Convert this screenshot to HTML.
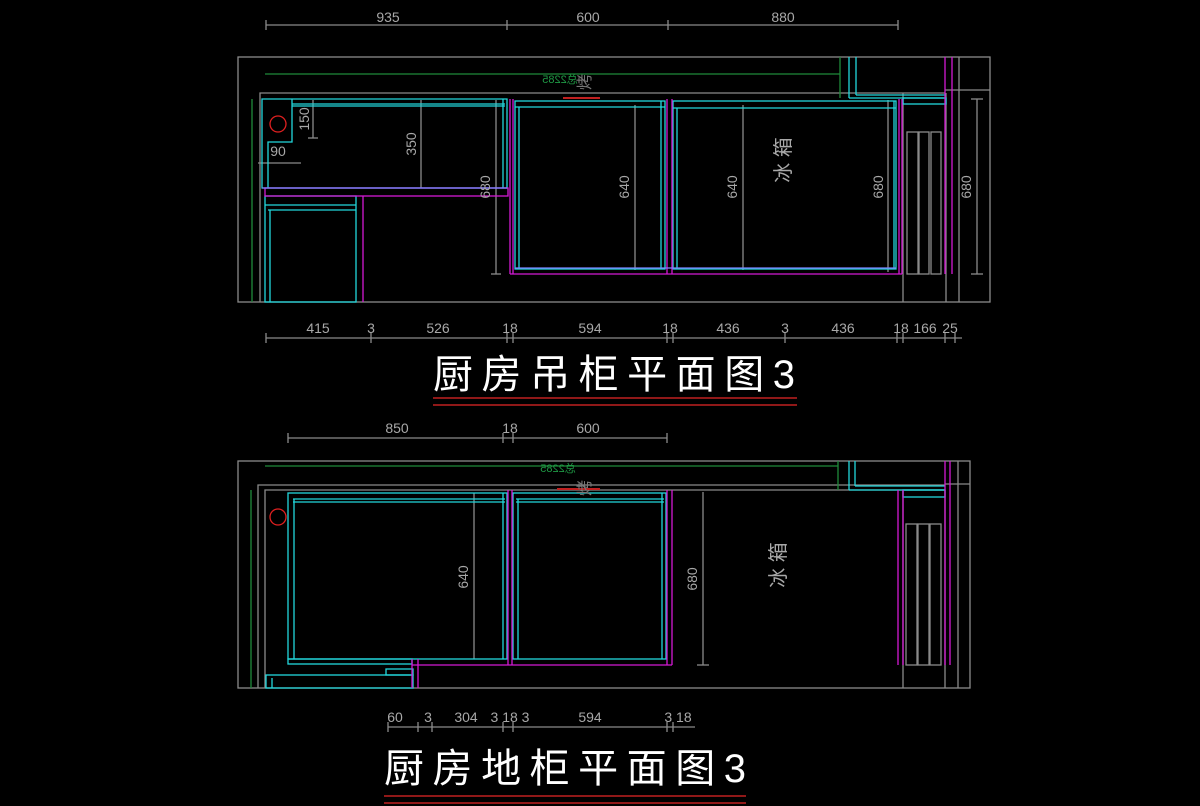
<!DOCTYPE html>
<html><head><meta charset="utf-8"><style>
html,body{margin:0;padding:0;background:#000;}
svg{display:block}
text{font-family:"Liberation Sans","Noto Sans CJK SC",sans-serif;}
</style></head><body>
<svg width="1200" height="806" viewBox="0 0 1200 806" xmlns="http://www.w3.org/2000/svg">
<rect width="1200" height="806" fill="#000"/>
<g fill="none" stroke-width="1.3">
<!-- ===== TOP DRAWING ===== -->
<g stroke="#8a8a8a">
<rect x="238" y="57" width="752" height="245"/>
<polyline points="260,302 260,93 945,93"/>
<line x1="945" y1="90" x2="990" y2="90"/>
<line x1="903" y1="93" x2="903" y2="302"/>
<line x1="946" y1="93" x2="946" y2="302"/>
<line x1="959" y1="57" x2="959" y2="302"/>
<rect x="907" y="132" width="11" height="142"/>
<rect x="919" y="132" width="10" height="142"/>
<rect x="931" y="132" width="10" height="142"/>
<!-- dims -->
<line x1="266" y1="25" x2="898" y2="25"/>
<line x1="266" y1="20" x2="266" y2="30"/><line x1="507" y1="20" x2="507" y2="30"/><line x1="668" y1="20" x2="668" y2="30"/><line x1="898" y1="20" x2="898" y2="30"/>
<line x1="266" y1="338" x2="962" y2="338"/>
<line x1="266" y1="333" x2="266" y2="343"/><line x1="371" y1="333" x2="371" y2="343"/><line x1="507" y1="333" x2="507" y2="343"/><line x1="513" y1="333" x2="513" y2="343"/><line x1="667" y1="333" x2="667" y2="343"/><line x1="673" y1="333" x2="673" y2="343"/><line x1="785" y1="333" x2="785" y2="343"/><line x1="897" y1="333" x2="897" y2="343"/><line x1="903" y1="333" x2="903" y2="343"/><line x1="945" y1="333" x2="945" y2="343"/><line x1="955" y1="333" x2="955" y2="343"/>
<line x1="421" y1="100" x2="421" y2="188"/>
<line x1="313" y1="100" x2="313" y2="138"/><line x1="308" y1="138" x2="318" y2="138"/>
<line x1="496" y1="100" x2="496" y2="274"/><line x1="491" y1="274" x2="501" y2="274"/>
<line x1="635" y1="105" x2="635" y2="270"/>
<line x1="743" y1="105" x2="743" y2="270"/>
<line x1="888" y1="100" x2="888" y2="272"/>
<line x1="977" y1="99" x2="977" y2="274"/><line x1="971" y1="99" x2="983" y2="99"/><line x1="971" y1="274" x2="983" y2="274"/>
<line x1="258" y1="163" x2="301" y2="163"/>
</g>
<g stroke="#1f8a3a">
<line x1="265" y1="74" x2="840" y2="74"/>
<line x1="840" y1="57" x2="840" y2="98"/>
<line x1="252" y1="99" x2="252" y2="302"/>
</g>
<g stroke="#22d8dc">
<polyline points="292,99 507,99 507,188 262,188 262,99 292,99 292,142 268,142 268,188"/>
<line x1="292" y1="104" x2="505" y2="104"/><line x1="292" y1="106" x2="505" y2="106"/>
<line x1="503" y1="99" x2="503" y2="188"/>
<rect x="265" y="196" width="91" height="106"/>
<line x1="265" y1="205" x2="356" y2="205"/><line x1="268" y1="210" x2="356" y2="210"/>
<line x1="270" y1="210" x2="270" y2="302"/>
<rect x="515" y="101" width="150" height="168"/>
<line x1="515" y1="107" x2="665" y2="107"/>
<line x1="519" y1="107" x2="519" y2="269"/><line x1="661" y1="101" x2="661" y2="269"/>
<rect x="673" y="101" width="223" height="168"/>
<line x1="673" y1="108" x2="896" y2="108"/>
<line x1="677" y1="108" x2="677" y2="269"/><line x1="894" y1="101" x2="894" y2="269"/>
<line x1="849" y1="57" x2="849" y2="98"/><line x1="856" y1="57" x2="856" y2="95"/>
<polyline points="849,98 946,98"/><line x1="856" y1="95" x2="946" y2="95"/>
<rect x="903" y="98" width="43" height="6"/>
</g>
<g stroke="#d41ad4">
<rect x="265" y="188" width="243" height="8"/>
<line x1="363" y1="196" x2="363" y2="302"/>
<line x1="510" y1="99" x2="510" y2="274"/><line x1="513" y1="99" x2="513" y2="274"/>
<line x1="667" y1="99" x2="667" y2="274"/><line x1="672" y1="99" x2="672" y2="274"/>
<line x1="899" y1="99" x2="899" y2="274"/><line x1="902" y1="99" x2="902" y2="274"/>
<line x1="510" y1="274" x2="902" y2="274"/>
<line x1="945" y1="57" x2="945" y2="274"/><line x1="952" y1="57" x2="952" y2="274"/>
</g>
<line x1="515" y1="268" x2="896" y2="268" stroke="#8080ff"/>
<line x1="262" y1="188" x2="507" y2="188" stroke="#8080ff"/>
<circle cx="278" cy="124" r="8" stroke="#e02020"/>

<!-- ===== BOTTOM DRAWING ===== -->
<g stroke="#8a8a8a">
<rect x="238" y="461" width="732" height="227"/>
<polyline points="258,688 258,485 945,485"/>
<polyline points="265,688 265,490 945,490"/>
<line x1="945" y1="484" x2="970" y2="484"/>
<line x1="903" y1="490" x2="903" y2="688"/>
<line x1="945" y1="490" x2="945" y2="688"/>
<line x1="958" y1="461" x2="958" y2="688"/>
<rect x="906" y="524" width="11" height="141"/>
<rect x="918" y="524" width="11" height="141"/>
<rect x="930" y="524" width="11" height="141"/>
<line x1="288" y1="438" x2="667" y2="438"/>
<line x1="288" y1="433" x2="288" y2="443"/><line x1="503" y1="433" x2="503" y2="443"/><line x1="513" y1="433" x2="513" y2="443"/><line x1="667" y1="433" x2="667" y2="443"/>
<line x1="388" y1="727" x2="695" y2="727"/>
<line x1="388" y1="722" x2="388" y2="732"/><line x1="418" y1="722" x2="418" y2="732"/><line x1="432" y1="722" x2="432" y2="732"/><line x1="503" y1="722" x2="503" y2="732"/><line x1="513" y1="722" x2="513" y2="732"/><line x1="667" y1="722" x2="667" y2="732"/><line x1="673" y1="722" x2="673" y2="732"/>
<line x1="474" y1="493" x2="474" y2="659"/>
<line x1="703" y1="492" x2="703" y2="665"/><line x1="697" y1="665" x2="709" y2="665"/>
</g>
<g stroke="#1f8a3a">
<line x1="265" y1="466" x2="838" y2="466"/>
<line x1="838" y1="461" x2="838" y2="490"/>
<line x1="251" y1="490" x2="251" y2="688"/>
</g>
<g stroke="#22d8dc">
<rect x="288" y="493" width="219" height="166"/>
<line x1="293" y1="499" x2="505" y2="499"/><line x1="293" y1="502" x2="505" y2="502"/>
<line x1="294" y1="499" x2="294" y2="659"/><line x1="503" y1="493" x2="503" y2="659"/>
<rect x="288" y="659" width="124" height="5"/>
<rect x="513" y="493" width="153" height="166"/>
<line x1="516" y1="499" x2="664" y2="499"/><line x1="516" y1="502" x2="664" y2="502"/>
<line x1="518" y1="499" x2="518" y2="659"/><line x1="662" y1="493" x2="662" y2="659"/>
<rect x="266" y="675" width="147" height="13"/>
<rect x="386" y="669" width="27" height="6"/>
<line x1="272" y1="678" x2="272" y2="688"/>
<line x1="849" y1="461" x2="849" y2="490"/><line x1="855" y1="461" x2="855" y2="486"/>
<line x1="849" y1="490" x2="945" y2="490"/><line x1="855" y1="486" x2="945" y2="486"/>
<rect x="903" y="490" width="42" height="7"/>
</g>
<g stroke="#d41ad4">
<line x1="508" y1="490" x2="508" y2="665"/><line x1="512" y1="490" x2="512" y2="665"/>
<line x1="667" y1="490" x2="667" y2="665"/><line x1="672" y1="490" x2="672" y2="665"/>
<line x1="412" y1="665" x2="672" y2="665"/>
<line x1="412" y1="659" x2="412" y2="688"/><line x1="418" y1="659" x2="418" y2="688"/>
<line x1="898" y1="490" x2="898" y2="665"/><line x1="903" y1="490" x2="903" y2="665"/>
<line x1="945" y1="461" x2="945" y2="665"/><line x1="950" y1="461" x2="950" y2="665"/>
</g>
<ellipse cx="278" cy="517" rx="8" ry="8" stroke="#e02020"/>
<line x1="557" y1="489" x2="600" y2="489" stroke="#c02020" stroke-width="2"/>
<line x1="563" y1="98" x2="600" y2="98" stroke="#c02020" stroke-width="2"/>
</g>

<!-- text -->
<g fill="#a8a8a8" font-size="14" text-anchor="middle">
<text x="388" y="22">935</text><text x="588" y="22">600</text><text x="783" y="22">880</text>
<text x="318" y="333">415</text><text x="371" y="333">3</text><text x="438" y="333">526</text><text x="510" y="333">18</text><text x="590" y="333">594</text><text x="670" y="333">18</text><text x="728" y="333">436</text><text x="785" y="333">3</text><text x="843" y="333">436</text><text x="901" y="333">18</text><text x="925" y="333">166</text><text x="950" y="333">25</text>
<text x="278" y="156">90</text>
<text x="397" y="433">850</text><text x="510" y="433">18</text><text x="588" y="433">600</text>
<text x="395" y="722">60</text><text x="428" y="722">3</text><text x="466" y="722">304</text><text x="510" y="722">3 18 3</text><text x="590" y="722">594</text><text x="678" y="722">3 18</text>
<text transform="translate(416,144) rotate(-90)">350</text>
<text transform="translate(309,119) rotate(-90)">150</text>
<text transform="translate(490,187) rotate(-90)">680</text>
<text transform="translate(629,187) rotate(-90)">640</text>
<text transform="translate(737,187) rotate(-90)">640</text>
<text transform="translate(883,187) rotate(-90)">680</text>
<text transform="translate(971,187) rotate(-90)">680</text>
<text transform="translate(468,577) rotate(-90)">640</text>
<text transform="translate(697,579) rotate(-90)">680</text>
<text font-size="20" transform="translate(790,160) rotate(-90)">冰 箱</text>
<text font-size="20" transform="translate(785,565) rotate(-90)">冰 箱</text>
<text font-size="16" fill="#777" transform="translate(590,82) rotate(-90)">烤</text>
<text font-size="16" fill="#777" transform="translate(590,488) rotate(-90)">烤</text>
</g>
<g fill="#1f9a45" font-size="11">
<text transform="translate(560,83) scale(-1,1)" text-anchor="middle">总2285</text>
<text transform="translate(558,472) scale(-1,1)" text-anchor="middle">总2285</text>
</g>
<g fill="#fff" font-size="40" font-family="'Liberation Serif','Noto Serif CJK SC',serif">
<text x="433" y="388" textLength="362" font-family="'Liberation Serif','Noto Serif CJK SC',serif">厨房吊柜平面图3</text>
<text x="384" y="782" textLength="362" font-family="'Liberation Serif','Noto Serif CJK SC',serif">厨房地柜平面图3</text>
</g>
<g stroke-width="1.5">
<line x1="433" y1="398" x2="797" y2="398" stroke="#c02020"/>
<line x1="433" y1="405" x2="797" y2="405" stroke="#c02020"/>
<line x1="384" y1="796" x2="746" y2="796" stroke="#c02020"/>
<line x1="384" y1="803" x2="746" y2="803" stroke="#c02020"/>
</g>
</svg>
</body></html>
